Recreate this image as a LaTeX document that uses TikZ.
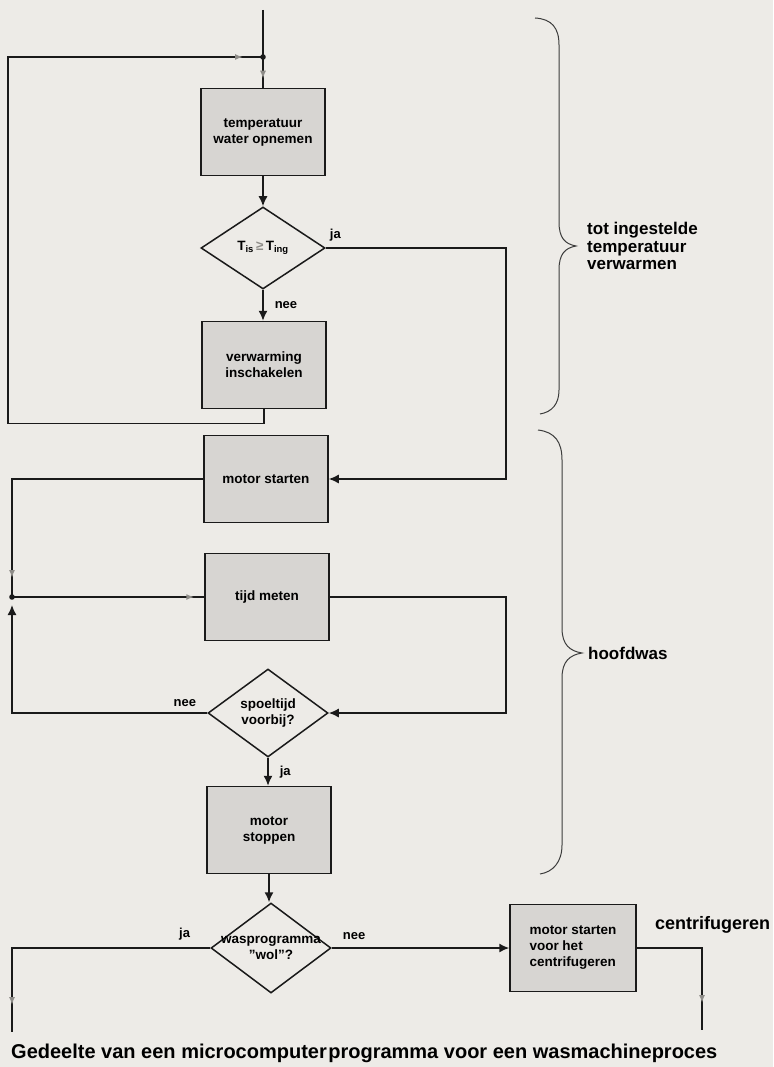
\documentclass[tikz,border=0pt]{standalone}
\usepackage{fontspec}
\setmainfont{Liberation Sans}
\usetikzlibrary{arrows.meta,positioning,shapes.geometric,decorations.markings}
\definecolor{paper}{HTML}{EDEBE7}
\definecolor{ink}{HTML}{1A1A1A}
\definecolor{boxgrey}{HTML}{D7D5D2}
\definecolor{faded}{HTML}{8E8C88}
\tikzset{
  stepbox/.style={draw=ink,line width=1.5pt,fill=boxgrey,minimum width=124pt,minimum height=87pt,
    inner sep=2pt,align=center,font=\bfseries\fontsize{13.5}{16}\selectfont},
  cond/.style={diamond,draw=ink,line width=1.5pt,inner sep=0pt},
  condtext/.style={align=center,inner sep=0pt,font=\bfseries\fontsize{13.5}{16}\selectfont},
  conn/.style={draw=ink,line width=1.5pt},
  arrow/.style={conn,-{Latex[length=10pt,width=9pt]}},
  faint/.style={postaction={decorate,decoration={markings,
    mark=at position #1 with {\arrow[faded]{Latex[length=8pt,width=6pt]}}}}},
  lbl/.style={inner sep=0pt,font=\bfseries\fontsize{13}{15}\selectfont},
  side/.style={inner sep=0pt,align=left,font=\bfseries\fontsize{17}{17.5}\selectfont},
  brace/.style={draw=ink!85,line width=1pt},
}

\begin{document}
\begin{tikzpicture}[x=1pt,y=-1pt]
  \fill[paper] (0,0) rectangle (773,1067);
  \useasboundingbox (0,0) rectangle (773,1067);

  % main column
  \node[stepbox] (meet) at (263,132) {temperatuur\\water opnemen};
  \node[cond,minimum width=124pt,minimum height=82pt] (hot) at (263,248) {};
  \node[condtext] (hottxt) at (hot) {T\textsubscript{is}\,{\color{faded}≥}\,T\textsubscript{ing}};
  \node[stepbox] (heat) at (264,365) {verwarming\\inschakelen};
  \node[stepbox] (mstart) at (266,479) {motor starten};
  \node[stepbox] (timer) at (267,597) {tijd meten};
  \node[cond,minimum width=120pt,minimum height=88pt] (rinse) at (268,713) {};
  \node[condtext] (rinsetxt) at (rinse) {spoeltijd\\voorbij?};
  \node[stepbox] (mstop) at (269,830) {motor\\stoppen};
  \node[cond,minimum width=120pt,minimum height=90pt] (wool) at (271,948) {};
  \node[condtext] (wooltxt) at (wool) {wasprogramma\\''wol''?};
  \node[stepbox,minimum width=126pt,align=left] (spin) at (573,948) {motor starten\\voor het\\centrifugeren};

  \coordinate (top) at (263,10);
  \coordinate (j1) at (263,57);
  \coordinate (j2) at (12,597);
  \coordinate (lx) at (8,0);
  \coordinate (rx) at (506,0);
  \coordinate (endl) at (12,1032);
  \coordinate (endr) at (702,1030);

  % connectors
  \draw[conn] (top) -- (j1);
  \draw[conn,faint=-9pt] (j1) -- (meet.north);
  \draw[arrow] (meet.south) -- (hot.north);
  \draw[arrow] (hot.south) -- node[lbl,right=11pt] (nee1) {nee} (hot.south |- heat.north);
  \draw[arrow] (hot.east) -- (hot.east -| rx) |- (mstart.east);
  \node[lbl,above right=7pt and 4pt] (ja1) at (hot.east) {ja};
  \draw[conn,faint=-20pt] (heat.south) -- ++(0,14) -| (lx |- j1) -- (j1);
  \fill[ink] (j1) circle (2.8pt);

  \draw[conn,faint=-19pt] (mstart.west) -| (j2);
  \draw[conn,faint=-10pt] (j2) -- (timer.west);
  \fill[ink] (j2) circle (2.8pt);
  \draw[arrow] (timer.east) -| (rx |- rinse) -- (rinse.east);
  \draw[arrow] (rinse.west) -| ([yshift=-8pt]j2);
  \node[lbl,above left=6pt and 11pt] (nee2) at (rinse.west) {nee};
  \draw[arrow] (rinse.south) -- node[lbl,right=11pt] (ja2) {ja} (rinse.south |- mstop.north);
  \draw[arrow] (mstop.south) -- (mstop.south |- wool.north);

  \draw[conn,faint=-27pt] (wool.west) -| (endl);
  \node[lbl,above left=8pt and 20pt] (ja3) at (wool.west) {ja};
  \draw[arrow] (wool.east) -- (spin.west);
  \node[lbl,above right=8pt and 11pt] (nee3) at (wool.east) {nee};
  \draw[conn,faint=-27pt] (spin.east) -| (endr);

  % braces and side texts
  \draw[brace] (535,18) .. controls (552,19) and (559,28) .. (559,45) -- (559,222)
    .. controls (559,238) and (565,244) .. (576,246) .. controls (565,248) and (559,254) .. (559,270)
    -- (559,390) .. controls (559,404) and (552,412) .. (540,414);
  \draw[brace] (538,430) .. controls (555,432) and (562,442) .. (562,460) -- (562,628)
    .. controls (562,645) and (570,651) .. (582,653) .. controls (570,655) and (562,661) .. (562,678)
    -- (562,845) .. controls (562,862) and (553,872) .. (540,874);
  \node[side,anchor=west] (heatlbl) at (587,246) {tot ingestelde\\temperatuur\\verwarmen};
  \node[side,anchor=west] (washlbl) at (588,653) {hoofdwas};
  \node[side,anchor=west,font=\bfseries\fontsize{18}{18}\selectfont] (spinlbl) at (655,925) {centrifugeren};

  \node[anchor=west,inner sep=0pt,font=\bfseries\fontsize{20}{22}\selectfont] (caption) at (11,1053)
    {Gedeelte van een microcomputer\kern1.5pt programma voor een wasmachineproces};
\end{tikzpicture}
\end{document}
